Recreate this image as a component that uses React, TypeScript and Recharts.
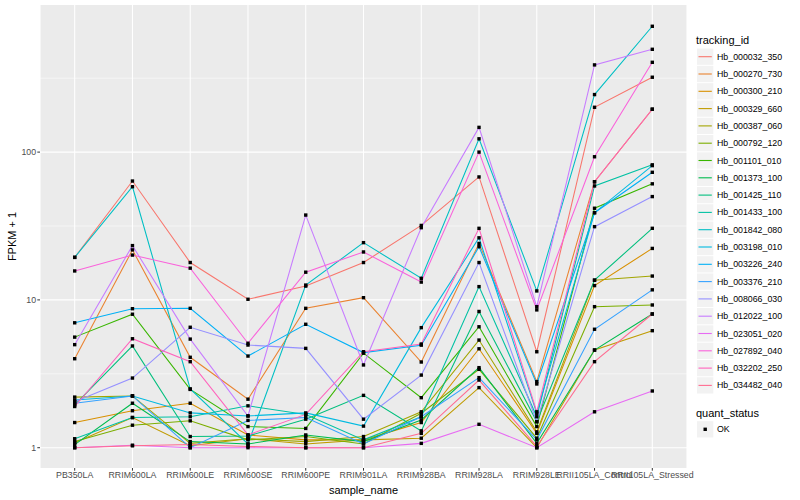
import React from "react";
import { LineChart, Line, XAxis, YAxis, CartesianGrid, ReferenceLine } from "recharts";

const categories = ["PB350LA", "RRIM600LA", "RRIM600LE", "RRIM600SE", "RRIM600PE", "RRIM901LA", "RRIM928BA", "RRIM928LA", "RRIM928LE", "RRII105LA_Control", "RRII105LA_Stressed"];

const trackingIds = ["Hb_000032_350", "Hb_000270_730", "Hb_000300_210", "Hb_000329_660", "Hb_000387_060", "Hb_000792_120", "Hb_001101_010", "Hb_001373_100", "Hb_001425_110", "Hb_001433_100", "Hb_001842_080", "Hb_003198_010", "Hb_003226_240", "Hb_003376_210", "Hb_008066_030", "Hb_012022_100", "Hb_023051_020", "Hb_027892_040", "Hb_032202_250", "Hb_034482_040"];

const seriesColors = ["#F8766D", "#EA8331", "#D89000", "#C09B00", "#A3A500", "#7CAE00", "#39B600", "#00BB4E", "#00BF7D", "#00C1A3", "#00BFC4", "#00BAE0", "#00B0F6", "#35A2FF", "#9590FF", "#C77CFF", "#E76BF3", "#FA62DB", "#FF62BC", "#FF6C91"];

const hb000032_350 = [19.4, 63.7, 17.9, 10.1, 12.4, 17.9, 31.9, 67.9, 4.46, 201, 321];
const hb000270_730 = [4.0, 21.8, 4.09, 2.13, 8.77, 10.35, 3.8, 24.1, 2.8, 63, 195];
const hb000300_210 = [1.48, 1.78, 2.0, 1.22, 1.13, 1.13, 1.48, 4.67, 1.25, 12.5, 22.3];
const hb000329_660 = [1.08, 1.6, 1.03, 1.15, 1.06, 1.13, 1.16, 2.55, 1.0, 4.58, 6.19];
const hb000387_060 = [2.2, 2.24, 1.07, 1.15, 1.1, 1.19, 1.75, 5.35, 1.28, 13.6, 14.5];
const hb000792_120 = [1.1, 1.42, 1.52, 1.13, 1.19, 1.06, 1.71, 3.39, 1.16, 9.0, 9.24];
const hb001101_010 = [5.6, 8.0, 2.48, 1.39, 1.35, 4.36, 2.18, 6.58, 1.39, 41.7, 61];
const hb001373_100 = [1.05, 2.0, 1.1, 1.06, 1.22, 1.1, 1.54, 3.48, 1.07, 4.58, 8.03];
const hb001425_110 = [1.95, 4.88, 1.19, 1.2, 1.56, 2.26, 1.3, 8.35, 1.5, 13.6, 30.5];
const hb001433_100 = [1.15, 1.6, 1.62, 1.92, 1.68, 1.13, 1.62, 12.3, 1.62, 59, 82];
const hb001842_080 = [19.4, 58.3, 2.5, 1.06, 12.6, 24.4, 14.0, 123, 11.5, 245, 710];
const hb003198_010 = [2.1, 2.24, 1.72, 1.64, 1.72, 1.4, 6.49, 26.3, 1.71, 38.9, 81];
const hb003226_240 = [7.0, 8.72, 8.77, 4.17, 6.84, 4.4, 4.94, 22.9, 2.7, 38.9, 73];
const hb003376_210 = [2.0, 2.24, 1.0, 1.53, 1.6, 1.06, 1.62, 2.98, 1.13, 6.33, 11.7];
const hb008066_030 = [2.05, 2.96, 6.53, 4.95, 4.7, 1.56, 3.1, 17.9, 1.5, 31.3, 50];
const hb012022_100 = [4.98, 23.3, 5.43, 1.64, 37.5, 3.63, 30.8, 147, 9.0, 389, 496];
const hb023051_020 = [1.0, 1.04, 1.0, 1.0, 1.0, 1.0, 1.07, 1.44, 1.0, 1.75, 2.42];
const hb027892_040 = [15.7, 20.1, 16.4, 5.09, 15.4, 21.1, 13.2, 100, 8.56, 93, 405];
const hb032202_250 = [1.9, 5.46, 3.82, 1.22, 1.68, 4.46, 5.03, 30.5, 1.75, 63, 195];
const hb034482_040 = [1.0, 1.03, 1.05, 1.02, 1.0, 1.0, 1.25, 2.87, 1.02, 3.82, 8.03];

const seriesValues = [hb000032_350, hb000270_730, hb000300_210, hb000329_660, hb000387_060, hb000792_120, hb001101_010, hb001373_100, hb001425_110, hb001433_100, hb001842_080, hb003198_010, hb003226_240, hb003376_210, hb008066_030, hb012022_100, hb023051_020, hb027892_040, hb032202_250, hb034482_040];

const yTicks = [1, 10, 100];
const yMinorLines = [3.1623, 31.623, 316.23];

const data = categories.map((name, i) => {
  const row: Record<string, any> = { name };
  seriesValues.forEach((vals, s) => {
    row["s" + s] = vals[i];
  });
  return row;
});

const FONT = "'Liberation Sans', Arial, Helvetica, sans-serif";

const SquareDot = (props: any) => {
  const { cx, cy, index } = props;
  if (cx == null || cy == null) return null;
  return <rect key={"d" + index} x={cx - 1.7} y={cy - 1.7} width={3.4} height={3.4} fill="#000" />;
};

export default function App() {
  const rowH = 17.3;
  const firstRow = 56.7;
  return (
    <div style={{ position: "absolute", left: 0, top: 0, width: 800, height: 500, background: "#fff" }}>
      <LineChart width={800} height={500} data={data} margin={{ top: 5, right: 113, bottom: 0, left: 0 }}>
        <CartesianGrid fill="#EBEBEB" stroke="#FFFFFF" strokeWidth={1.07} horizontal={false} vertical={true} />
        {yMinorLines.map((v) => (
          <ReferenceLine key={"mn" + v} y={v} stroke="#FFFFFF" strokeWidth={0.55} ifOverflow="hidden" />
        ))}
        {yTicks.map((v) => (
          <ReferenceLine key={"mj" + v} y={v} stroke="#FFFFFF" strokeWidth={1.07} ifOverflow="hidden" />
        ))}
        <XAxis
          dataKey="name"
          height={32}
          padding={{ left: 34.7, right: 34.7 }}
          axisLine={false}
          tickLine={{ stroke: "#333333", strokeWidth: 1 }}
          tickSize={2.7}
          tickMargin={1.5}
          interval={0}
          tick={{ fontSize: 8.8, fill: "#4D4D4D", fontFamily: FONT }}
        />
        <YAxis
          scale="log"
          domain={[0.729, 989]}
          allowDataOverflow
          ticks={yTicks}
          width={40}
          axisLine={false}
          tickLine={{ stroke: "#333333", strokeWidth: 1 }}
          tickSize={2.7}
          tickMargin={1.2}
          tick={{ fontSize: 8.8, fill: "#4D4D4D", fontFamily: FONT }}
        />
        {seriesValues.map((_, s) => (
          <Line
            key={"l" + s}
            type="linear"
            dataKey={"s" + s}
            stroke={seriesColors[s]}
            strokeWidth={1.07}
            dot={false}
            activeDot={false}
            isAnimationActive={false}
          />
        ))}
        {seriesValues.map((_, s) => (
          <Line
            key={"p" + s}
            type="linear"
            dataKey={"s" + s}
            stroke="none"
            dot={<SquareDot />}
            activeDot={false}
            legendType="none"
            isAnimationActive={false}
          />
        ))}
      </LineChart>
      <svg width={800} height={500} style={{ position: "absolute", left: 0, top: 0, pointerEvents: "none" }}>
        <text x={12} y={236.5} transform="rotate(-90 12 236.5)" textAnchor="middle" dominantBaseline="central" fontSize={11} fill="#000" fontFamily={FONT}>FPKM + 1</text>
        <text x={363.5} y={490} textAnchor="middle" dominantBaseline="central" fontSize={11} fill="#000" fontFamily={FONT}>sample_name</text>
        <text x={696} y={40} dominantBaseline="central" fontSize={11} fill="#000" fontFamily={FONT}>tracking_id</text>
        {trackingIds.map((id, i) => {
          const cy = firstRow + i * rowH;
          return (
            <g key={id}>
              <rect x={697} y={cy - rowH / 2 + 0.5} width={16.3} height={rowH - 1} fill="#F2F2F2" />
              <line x1={698.5} x2={711.8} y1={cy} y2={cy} stroke={seriesColors[i]} strokeWidth={1.1} />
              <text x={717} y={cy} dominantBaseline="central" fontSize={8.8} fill="#000" fontFamily={FONT}>{id}</text>
            </g>
          );
        })}
        <text x={696} y={413} dominantBaseline="central" fontSize={11} fill="#000" fontFamily={FONT}>quant_status</text>
        <rect x={697} y={429.3 - rowH / 2 + 0.5} width={16.3} height={rowH - 1} fill="#F2F2F2" />
        <rect x={703.5} y={427.6} width={3.4} height={3.4} fill="#000" />
        <text x={717} y={429.3} dominantBaseline="central" fontSize={8.8} fill="#000" fontFamily={FONT}>OK</text>
      </svg>
    </div>
  );
}
